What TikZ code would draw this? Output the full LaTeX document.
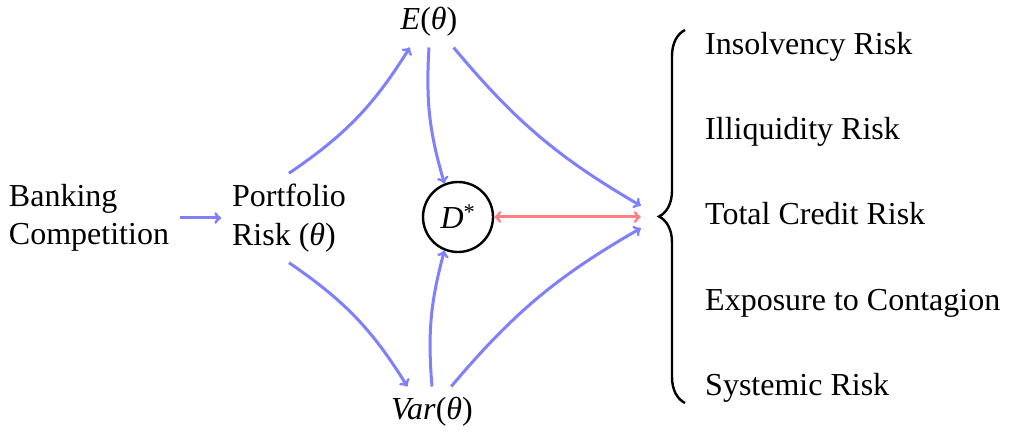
\documentclass[tikz,border=0pt]{standalone}
\usepackage{fontspec}
\setmainfont{Liberation Serif}
\newfontfamily\serifface{Liberation Serif}
\usetikzlibrary{decorations.pathreplacing}
\begin{document}
\begin{tikzpicture}[x=1pt,y=-1pt,
  font=\serifface\fontsize{32}{38.4}\selectfont,
  arr/.style={->, draw=blue!50, line width=3pt},
  redarr/.style={<->, draw=red!50, line width=3pt},
  lab/.style={anchor=base west, inner sep=0pt},
  txt/.style={align=left, inner sep=10.7pt}]
\useasboundingbox (0,0) rectangle (1011,435);
\node[txt] (bank) at (89,218) {Banking\\Competition};
\node[txt] (port) at (289,218) {Portfolio\\Risk (\textit{θ})};
\node[inner sep=10.7pt] (E) at (429,22) {\textit{E}(\textit{θ})};
\node[inner sep=10.7pt] (V) at (432,412) {\textit{Var}(\textit{θ})};
\node[draw, circle, line width=2.4pt, minimum size=70pt, inner sep=0pt] (D) at (458,217) {\textit{D}\textsuperscript{*}};
\node[inner sep=0pt, minimum width=16pt, minimum height=22pt] (risk) at (649,217) {};
\draw[decorate, decoration={brace, amplitude=26pt}, line width=2.4pt] (685,403) -- (685,30);
\node[lab] (r1) at (705,55) {Insolvency Risk};
\node[lab] (r2) at (705,140) {Illiquidity Risk};
\node[lab] (r3) at (705,225) {Total Credit Risk};
\node[lab] (r4) at (705,310) {Exposure to Contagion};
\node[lab] (r5) at (705,395) {Systemic Risk};
\draw[arr] (bank) -- (port);
\draw[arr] (port.north) to[bend right=12] (E.233);
\draw[arr] (port.south) to[bend left=12] (V.134);
\draw[arr] (E.south) to[bend right=10] (D.112);
\draw[arr] (V.north) to[bend left=10] (D.248);
\draw[arr] (E.314) to[bend right=10] (risk.north west);
\draw[arr] (V.53) to[bend left=10] (risk.south west);
\draw[redarr] (D) -- (risk.west);
\end{tikzpicture}
\end{document}
